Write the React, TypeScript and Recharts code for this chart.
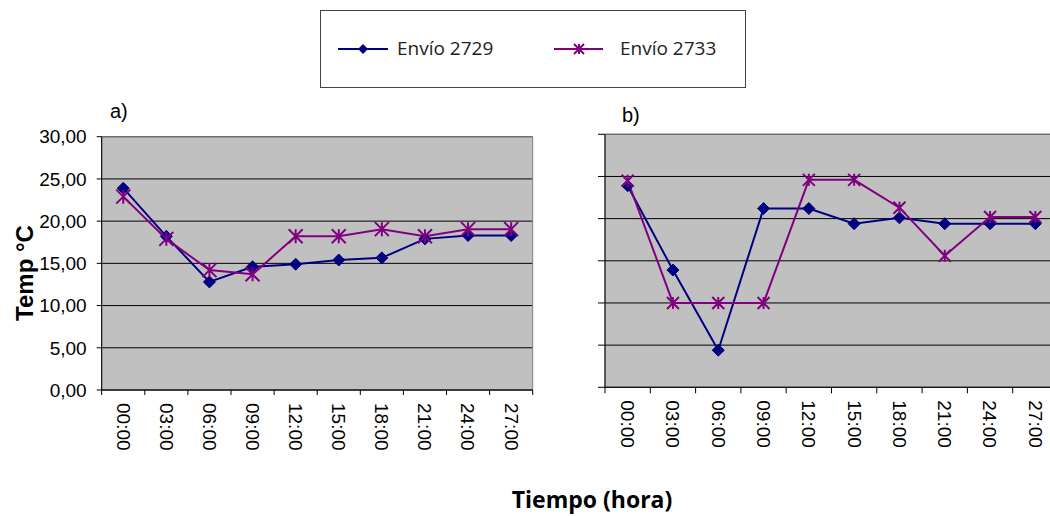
import { LineChart, Line, XAxis, YAxis, CartesianGrid, ReferenceArea } from 'recharts'

// horas de muestreo
const hours = ['00:00', '03:00', '06:00', '09:00', '12:00', '15:00', '18:00', '21:00', '24:00', '27:00']

// a) temperaturas
const a2729 = [23.9, 18.2, 12.8, 14.6, 14.9, 15.4, 15.65, 17.9, 18.3, 18.3]
const a2733 = [22.9, 17.9, 14.2, 13.7, 18.2, 18.2, 19.05, 18.2, 19.05, 19.05]

// b) temperaturas
const b2729 = [23.9, 13.9, 4.4, 21.2, 21.2, 19.4, 20.1, 19.4, 19.4, 19.4]
const b2733 = [24.5, 10.0, 10.0, 10.0, 24.6, 24.6, 21.3, 15.6, 20.2, 20.2]

const yTicks = [0, 5, 10, 15, 20, 25, 30]

const BLUE = '#000080'
const PURPLE = '#800080'
const ARIAL = '"Liberation Sans", Arial, sans-serif'

const build = (s1: number[], s2: number[]) =>
  hours.map((h, i) => ({ x: i + 0.5, hour: h, s2729: s1[i], s2733: s2[i] }))

const dataA = build(a2729, a2733)
const dataB = build(b2729, b2733)

// ticks at category edges (marks) and centres (labels)
const xTicks = [...hours.map((_, i) => i), hours.length, ...hours.map((_, i) => i + 0.5)].sort((a, b) => a - b)

const XTick = (len: number) => (p: any) => {
  const v = p.payload.value
  if (Number.isInteger(v)) {
    return <line x1={p.x} x2={p.x} y1={p.y} y2={p.y + len} stroke='#000' strokeWidth={1} />
  }
  const label = hours[Math.floor(v)]
  return (
    <text
      x={p.x}
      y={p.y + 13}
      transform={`rotate(90, ${p.x}, ${p.y + 13})`}
      textAnchor='start'
      dy='0.35em'
      fontSize={19}
      fontFamily={ARIAL}
      fill='#000'
    >
      {label}
    </text>
  )
}

const diamond = (r: number) => (p: any) => (
  <path
    key={`d-${p.index}`}
    d={`M${p.cx},${p.cy - r}L${p.cx + r},${p.cy}L${p.cx},${p.cy + r}L${p.cx - r},${p.cy}Z`}
    fill={BLUE}
    stroke={BLUE}
  />
)

const star = (r: number) => (p: any) => (
  <path
    key={`s-${p.index}`}
    d={`M${p.cx - r},${p.cy - r}L${p.cx + r},${p.cy + r}M${p.cx + r},${p.cy - r}L${p.cx - r},${p.cy + r}M${p.cx},${p.cy - r}L${p.cx},${p.cy + r}`}
    fill='none'
    stroke={PURPLE}
    strokeWidth={2}
  />
)

function Panel ({ data, yWidth, yTick, showY, margin, width, starR, xLen }: any) {
  return (
    <LineChart width={width} height={470} data={data} margin={margin}>
      <CartesianGrid vertical={false} stroke='#000' fill='#C0C0C0' fillOpacity={1} />
      <ReferenceArea x1={0} x2={10} y1={0} y2={30} fill='none' stroke='#808080' strokeWidth={1} ifOverflow='visible' />
      <XAxis
        dataKey='x'
        type='number'
        domain={[0, 10]}
        ticks={xTicks}
        interval={0}
        height={70}
        tickSize={0}
        tickMargin={0}
        tickLine={false}
        axisLine={{ stroke: '#000' }}
        tick={XTick(xLen)}
      />
      <YAxis
        type='number'
        domain={[0, 30]}
        ticks={yTicks}
        interval={0}
        width={yWidth}
        tickSize={yTick}
        tickMargin={10}
        axisLine={{ stroke: '#000' }}
        tickLine={{ stroke: '#000' }}
        tick={{ fontSize: 19, fontFamily: ARIAL, fill: '#000' }}
        tickFormatter={(v: number) => (showY ? v.toFixed(2).replace('.', ',') : '')}
      />
      <Line
        type='linear'
        dataKey='s2729'
        stroke={BLUE}
        strokeWidth={2}
        dot={diamond(6)}
        isAnimationActive={false}
      />
      <Line
        type='linear'
        dataKey='s2733'
        stroke={PURPLE}
        strokeWidth={2}
        dot={star(starR)}
        isAnimationActive={false}
      />
    </LineChart>
  )
}

export default function App () {
  return (
    <div style={{ position: 'fixed', left: 0, top: 0, width: 1050, height: 516, overflow: 'hidden', background: '#fff' }}>
      <div style={{ position: 'absolute', left: 0, top: 0 }}>
        <Panel
          data={dataA}
          width={560}
          yWidth={101.7}
          yTick={5}
          showY
          starR={7}
          xLen={5}
          margin={{ top: 136.7, right: 27.3, left: 0, bottom: 10 }}
        />
      </div>
      <div style={{ position: 'absolute', left: 560, top: 0 }}>
        <Panel
          data={dataB}
          width={510}
          yWidth={45}
          yTick={7}
          showY={false}
          starR={6}
          xLen={6}
          margin={{ top: 134.3, right: 12, left: 0, bottom: 12.7 }}
        />
      </div>
      <svg width={1050} height={516} style={{ position: 'absolute', left: 0, top: 0, pointerEvents: 'none' }}>
        <rect x={320.5} y={10.5} width={425} height={77} fill='#fff' stroke='#444' />
        <line x1={338} x2={388} y1={49} y2={49} stroke={BLUE} strokeWidth={2} />
        <path d='M363,44L368,49L363,54L358,49Z' fill={BLUE} />
        <text x={397} y={55} fontSize={19} fontFamily='"Open Sans", sans-serif' fill='#222'>Envío 2729</text>
        <line x1={554} x2={603} y1={49} y2={49} stroke={PURPLE} strokeWidth={2} />
        <path d='M574,44L584,54M584,44L574,54M579,44L579,54' stroke={PURPLE} strokeWidth={2} />
        <text x={620} y={55} fontSize={19} fontFamily='"Open Sans", sans-serif' fill='#222'>Envío 2733</text>

        <text x={110} y={118} fontSize={20} fontFamily={ARIAL} fill='#000'>a)</text>
        <text x={622} y={122} fontSize={20} fontFamily={ARIAL} fill='#000'>b)</text>

        <text
          x={33}
          y={273}
          transform='rotate(-90, 33, 273)'
          textAnchor='middle'
          fontSize={24}
          fontWeight='bold'
          fontFamily={ARIAL}
          fill='#000'
        >
          Temp °C
        </text>
        <text x={592} y={508} textAnchor='middle' fontSize={23} fontWeight='bold' fontFamily='"Open Sans", sans-serif' fill='#000'>
          Tiempo (hora)
        </text>
      </svg>
    </div>
  )
}
